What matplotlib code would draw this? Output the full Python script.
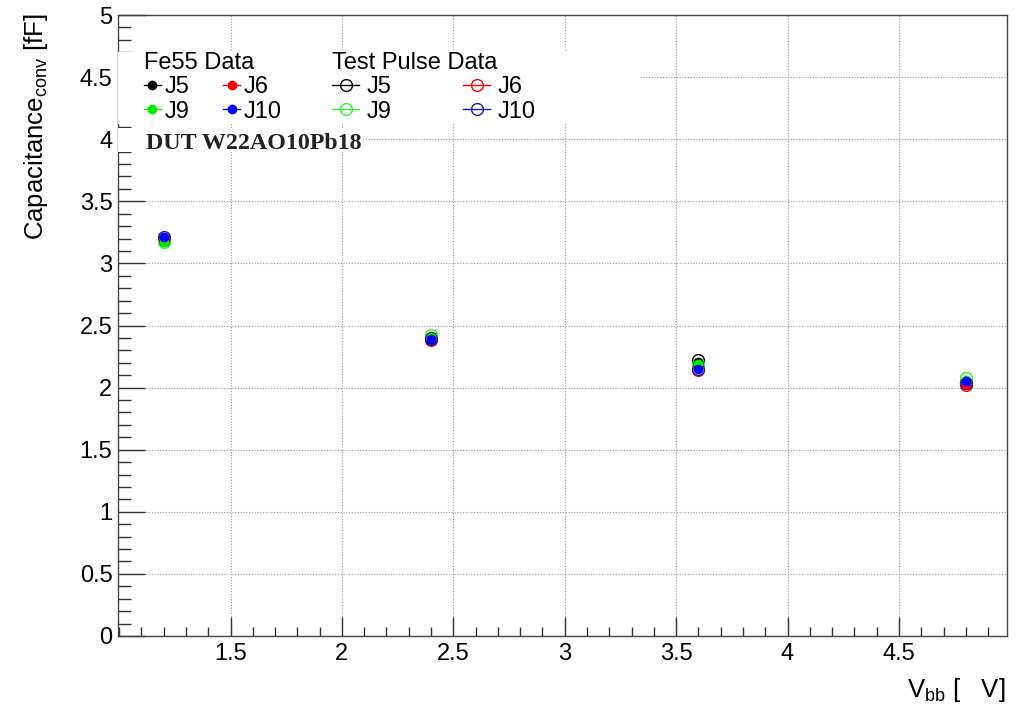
import matplotlib
matplotlib.use("Agg")
import matplotlib.pyplot as plt
from matplotlib.lines import Line2D
from matplotlib.patches import Rectangle
from matplotlib.ticker import MultipleLocator, FixedLocator, FuncFormatter

plt.rcParams['font.family'] = ['Liberation Sans', 'DejaVu Sans']
plt.rcParams['mathtext.fontset'] = 'custom'
plt.rcParams['mathtext.rm'] = 'Liberation Sans'
plt.rcParams['mathtext.default'] = 'regular'

# ---- data ----
vbb = [1.2, 2.4, 3.6, 4.8]
channels = ['J5', 'J6', 'J9', 'J10']
fe55_J5 = [3.18, 2.41, 2.21, 2.05]
fe55_J6 = [3.19, 2.40, 2.16, 2.03]
fe55_J9 = [3.17, 2.41, 2.19, 2.06]
fe55_J10 = [3.21, 2.39, 2.15, 2.05]
tp_J5 = [3.19, 2.40, 2.22, 2.04]
tp_J6 = [3.20, 2.38, 2.14, 2.02]
tp_J9 = [3.17, 2.42, 2.19, 2.08]
tp_J10 = [3.21, 2.39, 2.15, 2.04]

fe55_colors = ['#000000', '#ff0000', '#00ee00', '#0000ff']
tp_colors = ['#000000', '#ff0000', '#33ee33', '#1a1aa6']

fe55 = [fe55_J5, fe55_J6, fe55_J9, fe55_J10]
tp = [tp_J5, tp_J6, tp_J9, tp_J10]

fig = plt.figure(figsize=(10.2, 7.11), dpi=100)
ax = fig.add_axes([118/1020, 1-636/711, 889/1020, 621/711])

FS = 17

# test pulse open circles
for vals, c in zip(tp, tp_colors):
    ax.plot(vbb, vals, linestyle='none', marker='o', markersize=8.5,
            markerfacecolor='none', markeredgecolor=c, markeredgewidth=1.0, zorder=3)
# fe55 filled circles
for vals, c in zip(fe55, fe55_colors):
    ax.plot(vbb, vals, linestyle='none', marker='o', markersize=7.0,
            color=c, markeredgewidth=0, zorder=3.5)

ax.set_xlim(0.995, 4.985)
ax.set_ylim(0, 5)

ax.xaxis.set_major_locator(FixedLocator([1.5, 2, 2.5, 3, 3.5, 4, 4.5]))
ax.xaxis.set_minor_locator(MultipleLocator(0.1))
ax.yaxis.set_major_locator(MultipleLocator(0.5))
ax.yaxis.set_minor_locator(MultipleLocator(0.1))
fmt = FuncFormatter(lambda v, p: '%g' % round(v, 2))
ax.xaxis.set_major_formatter(fmt)
ax.yaxis.set_major_formatter(fmt)

ax.tick_params(axis='both', which='both', direction='in', top=False, right=False,
               color='#333333', width=1.0, labelsize=FS)
ax.tick_params(axis='y', which='major', length=19.4, pad=4)
ax.tick_params(axis='y', which='minor', length=9.7)
ax.tick_params(axis='x', which='major', length=13.4, pad=5)
ax.tick_params(axis='x', which='minor', length=6.7)

for s in ax.spines.values():
    s.set_color('#444444')
    s.set_linewidth(1.0)

ax.grid(True, which='major', color='#9a9a9a', linestyle=(0, (1, 1.5)), linewidth=0.8)
ax.set_axisbelow(True)

# white boxes behind legend and label
ax.add_patch(Rectangle((0.0, 0.8245), 0.587, 0.1155, transform=ax.transAxes,
                       facecolor='white', edgecolor='none', zorder=4))
ax.add_patch(Rectangle((0.0, 0.779), 0.276, 0.039, transform=ax.transAxes,
                       facecolor='white', edgecolor='none', zorder=4))

fe_handles = [Line2D([], [], color=c, marker='o', markersize=7, markeredgewidth=0, lw=1.0)
              for c in fe55_colors]
tp_handles = [Line2D([], [], color=c, marker='o', markersize=8.5, markerfacecolor='none',
                     markeredgecolor=c, markeredgewidth=1.0, lw=1.0) for c in tp_colors]

# order for ncol=2 column filling: col1 = J5, J9 ; col2 = J6, J10
order = [0, 2, 1, 3]
common = dict(ncol=2, title_fontsize=FS, fontsize=FS, alignment='left', loc='upper left',
              frameon=False, borderpad=0, borderaxespad=0, labelspacing=0.09)
leg1 = ax.legend([fe_handles[i] for i in order], [channels[i] for i in order],
                 title='Fe55 Data', bbox_to_anchor=(0.029, 0.940),
                 handlelength=0.72, handletextpad=0.15, columnspacing=1.45, **common)
leg1.set_zorder(5)
ax.add_artist(leg1)
leg2 = ax.legend([tp_handles[i] for i in order], [channels[i] for i in order],
                 title='Test Pulse Data', bbox_to_anchor=(0.2407, 0.940),
                 handlelength=1.15, handletextpad=0.3, columnspacing=3.05, **common)
leg2.set_zorder(5)

ax.text(0.031, 0.7925, 'DUT W22AO10Pb18', transform=ax.transAxes,
        fontsize=17.3, fontweight='bold', family=['Liberation Serif', 'DejaVu Serif'],
        color='#222222', va='center', ha='left', zorder=6)

fig.text(36/1020, 1-13/711, 'Capacitance$_{conv}$ [fF]', rotation=90,
         ha='center', va='top', fontsize=18.5)
fig.text(1005/1020, 1-697/711, 'V$_{bb}$ [   V]', ha='right', va='baseline', fontsize=18.5)

fig.savefig('out.png', dpi=100)
